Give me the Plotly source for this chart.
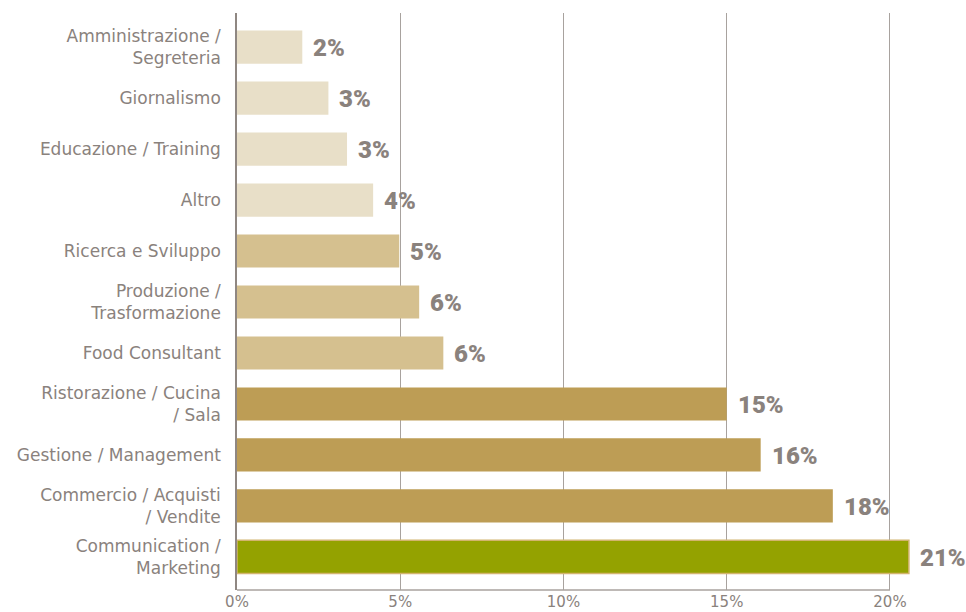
import plotly.graph_objects as go

categories = [
    "Communication /<br>Marketing",
    "Commercio / Acquisti<br>/ Vendite",
    "Gestione / Management",
    "Ristorazione / Cucina<br>/ Sala",
    "Food Consultant",
    "Produzione /<br>Trasformazione",
    "Ricerca e Sviluppo",
    "Altro",
    "Educazione / Training",
    "Giornalismo",
    "Amministrazione /<br>Segreteria",
]
values = [20.58, 18.25, 16.04, 15.0, 6.32, 5.58, 4.97, 4.17, 3.37, 2.8, 2.0]
labels = ["21%", "18%", "16%", "15%", "6%", "6%", "5%", "4%", "3%", "3%", "2%"]
colors = ["#94a200", "#bd9d55", "#bd9d55", "#bd9d55", "#d5c08f", "#d5c08f", "#d5c08f",
          "#e8dfc8", "#e8dfc8", "#e8dfc8", "#e8dfc8"]
outline = ["#d2b46e"] + ["rgba(0,0,0,0)"] * 10
xticks = [0, 5, 10, 15, 20]
xticktext = ["0%", "5%", "10%", "15%", "20%"]

TEXT = "#8a827d"
FONT = "DejaVu Sans"
VFONT = "Roboto"

fig = go.Figure(go.Bar(
    y=list(range(len(categories))),
    x=values,
    orientation="h",
    width=0.65,
    marker=dict(color=colors, line=dict(color=outline, width=1.5)),
    hoverinfo="skip",
))

for i, (v, t) in enumerate(zip(values, labels)):
    fig.add_annotation(x=v, y=i, text=t, showarrow=False,
                       xanchor="left", yanchor="middle", xshift=9, yshift=-1,
                       font=dict(family=VFONT, size=24, color=TEXT, weight=900))

# bottom axis line only up to the last tick
fig.add_shape(type="line", xref="x", yref="paper", x0=xticks[0], x1=xticks[-1],
              y0=0, y1=0, line=dict(color="#a8a29e", width=1.5))

fig.update_layout(
    width=966, height=612,
    margin=dict(l=237, r=14, t=13, b=22),
    plot_bgcolor="white", paper_bgcolor="white",
    showlegend=False,
    font=dict(family=FONT, color=TEXT),
    xaxis=dict(range=[0, 21.9], tickvals=xticks, ticktext=xticktext,
               showgrid=True, gridcolor="#a8a29e", gridwidth=1,
               zeroline=False, showline=False, automargin=False,
               tickfont=dict(size=15, color=TEXT), ticks="", ticklabelstandoff=1),
    yaxis=dict(range=[-0.65, 10.67], tickvals=list(range(len(categories))),
               ticktext=categories, showgrid=False, zeroline=False, automargin=False,
               showline=True, linecolor="#8f8782", linewidth=1.5,
               tickfont=dict(size=17, color=TEXT), ticks="", ticklabelstandoff=11),
)

fig.write_html("out.html")
